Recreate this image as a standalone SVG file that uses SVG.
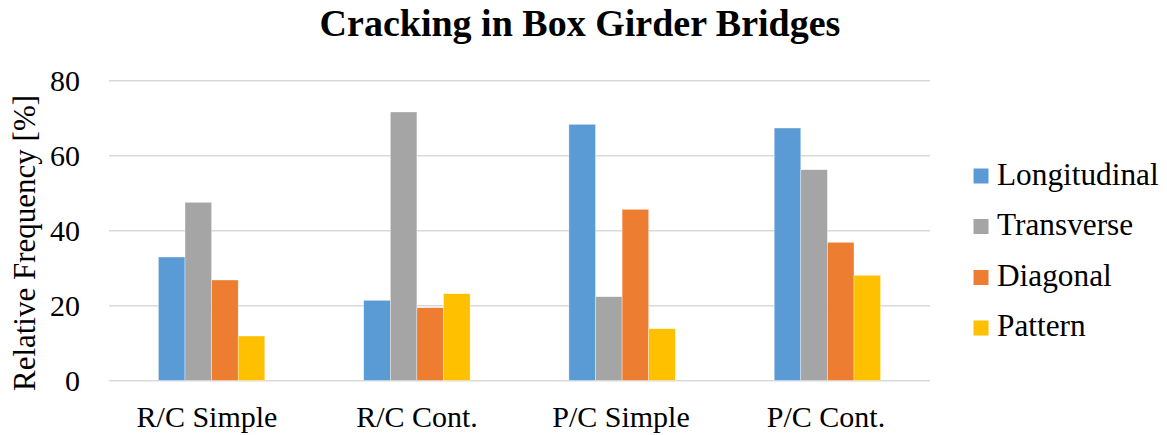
<svg xmlns="http://www.w3.org/2000/svg" width="1167" height="435" viewBox="0 0 1167 435">
  <style>
    text { font-family: "Liberation Serif", "Times New Roman", serif; fill: #000; }
    .title { font-size: 38px; font-weight: bold; text-anchor: middle; }
    .tick { font-size: 30px; text-anchor: end; }
    .cat { font-size: 30px; text-anchor: middle; }
    .axis-title { font-size: 31px; text-anchor: middle; }
    .legend { font-size: 31.3px; }
    .grid { stroke: #D9D9D9; stroke-width: 1.5; }
    .s-long { fill: #5B9BD5; }
    .s-trans { fill: #A5A5A5; }
    .s-diag { fill: #ED7D31; }
    .s-patt { fill: #FFC000; }
    .bar { stroke: #FFFFFF; stroke-width: 0.6; stroke-opacity: 0.6; }
  </style>

  <rect x="0" y="0" width="1167" height="435" fill="#FFFFFF"/>

  <text class="title" x="580" y="36">Cracking in Box Girder Bridges</text>

  <!-- gridlines, 0 to 80 in steps of 20 -->
  <g id="gridlines">
    <line class="grid" x1="109" y1="80.75" x2="930" y2="80.75"/>
    <line class="grid" x1="109" y1="155.75" x2="930" y2="155.75"/>
    <line class="grid" x1="109" y1="230.75" x2="930" y2="230.75"/>
    <line class="grid" x1="109" y1="305.75" x2="930" y2="305.75"/>
    <line class="grid" x1="109" y1="380.75" x2="930" y2="380.75"/>
  </g>

  <!-- value axis -->
  <g id="y-axis">
    <text class="tick" x="80" y="91">80</text>
    <text class="tick" x="80" y="166">60</text>
    <text class="tick" x="80" y="241">40</text>
    <text class="tick" x="80" y="316">20</text>
    <text class="tick" x="80" y="391">0</text>
    <text class="axis-title" transform="translate(35,243) rotate(-90)">Relative Frequency [%]</text>
  </g>

  <!-- bars per category -->
  <g id="rc-simple">
    <rect class="bar s-long" x="158.4" y="257" width="26.6" height="123.5"/>
    <rect class="bar s-trans" x="185" y="202.3" width="26.6" height="178.2"/>
    <rect class="bar s-diag" x="211.6" y="280" width="26.6" height="100.5"/>
    <rect class="bar s-patt" x="238.2" y="336" width="26.6" height="44.5"/>
    <text class="cat" x="207" y="427">R/C Simple</text>
  </g>
  <g id="rc-cont">
    <rect class="bar s-long" x="363.7" y="300.3" width="26.6" height="80.2"/>
    <rect class="bar s-trans" x="390.3" y="112" width="26.6" height="268.5"/>
    <rect class="bar s-diag" x="416.9" y="307.7" width="26.6" height="72.8"/>
    <rect class="bar s-patt" x="443.5" y="293.7" width="26.6" height="86.8"/>
    <text class="cat" x="417" y="427">R/C Cont.</text>
  </g>
  <g id="pc-simple">
    <rect class="bar s-long" x="568.9" y="124.3" width="26.6" height="256.2"/>
    <rect class="bar s-trans" x="595.5" y="296.7" width="26.6" height="83.8"/>
    <rect class="bar s-diag" x="622.1" y="209.3" width="26.6" height="171.2"/>
    <rect class="bar s-patt" x="648.7" y="328.7" width="26.6" height="51.8"/>
    <text class="cat" x="621" y="427">P/C Simple</text>
  </g>
  <g id="pc-cont">
    <rect class="bar s-long" x="774.2" y="128" width="26.6" height="252.5"/>
    <rect class="bar s-trans" x="800.8" y="169.7" width="26.6" height="210.8"/>
    <rect class="bar s-diag" x="827.4" y="242.3" width="26.6" height="138.2"/>
    <rect class="bar s-patt" x="854" y="275.3" width="26.6" height="105.2"/>
    <text class="cat" x="826" y="427">P/C Cont.</text>
  </g>

  <!-- legend -->
  <g id="legend">
    <rect class="s-long" x="973.5" y="168.5" width="15" height="15"/>
    <text class="legend" x="997" y="184.5">Longitudinal</text>
    <rect class="s-trans" x="973.5" y="219" width="15" height="15"/>
    <text class="legend" x="997" y="235">Transverse</text>
    <rect class="s-diag" x="973.5" y="270" width="15" height="15"/>
    <text class="legend" x="997" y="285.7">Diagonal</text>
    <rect class="s-patt" x="973.5" y="320.5" width="15" height="15"/>
    <text class="legend" x="997" y="335.7">Pattern</text>
  </g>
</svg>
